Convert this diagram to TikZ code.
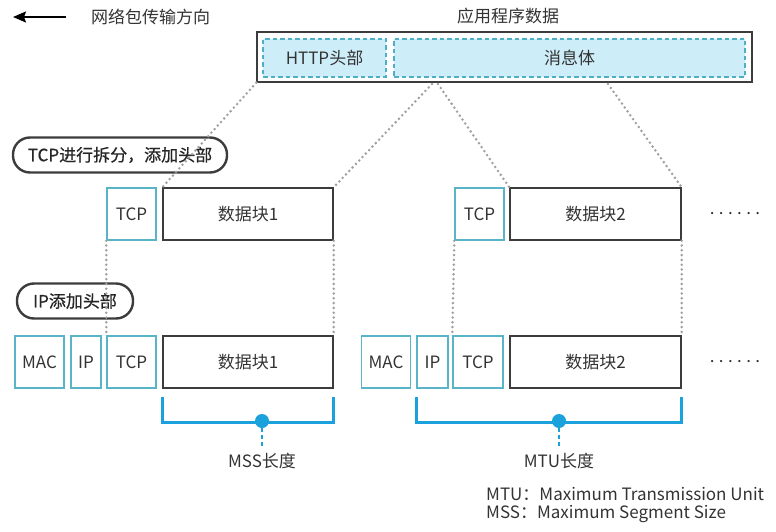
\documentclass[tikz,border=0pt]{standalone}
\usepackage{fontspec}
\setmainfont{Noto Sans CJK SC}
\newfontfamily\pillfont[FakeBold=0.7]{Noto Sans CJK SC}
\usetikzlibrary{arrows.meta}
\definecolor{tealc}{HTML}{5AB4C8}
\definecolor{lightfill}{HTML}{CDEEF9}
\definecolor{dashc}{HTML}{4FAFC4}
\definecolor{brblue}{HTML}{1BA1DB}
\definecolor{darkc}{HTML}{3C3C3C}
\definecolor{txtc}{HTML}{333333}
\definecolor{grayd}{HTML}{A0A0A0}
\tikzset{
  x=1pt,y=1pt,
  every node/.style={text=txtc,font=\fontsize{17}{20}\selectfont,inner sep=0pt},
  tealbox/.style={draw=tealc,line width=1.4pt,minimum height=52pt},
  databox/.style={draw=darkc,line width=1.4pt,minimum height=52pt},
  httpbox/.style={draw=dashc,fill=lightfill,line width=1.3pt,dash pattern=on 4.5pt off 3pt,minimum height=38pt},
  outerbox/.style={draw=darkc,line width=1.4pt,minimum height=50pt},
  pill/.style={draw=darkc,line width=2.4pt,rounded corners=17pt,minimum height=35pt,font=\pillfont\fontsize{17}{20}\selectfont,text=black!85},
  dotline/.style={draw=grayd,line width=2.8pt,dash pattern=on 0pt off 4.8pt,line cap=round},
  bracket/.style={draw=brblue,line width=2.6pt},
  bdash/.style={draw=brblue,line width=2.6pt,dash pattern=on 4pt off 3pt},
  bdot/.style={circle,fill=brblue,minimum size=14pt},
}
\begin{document}
\begin{tikzpicture}
\useasboundingbox (0,0) rectangle (776,-532);
% top arrow & title
\coordinate (arrS) at (66,-17);
\coordinate (arrE) at (13,-17);
\draw[-{Stealth[length=13pt,width=11pt,inset=2pt]},line width=1.8pt,black] (arrS) -- (arrE);
\node[anchor=west] (dir) at (91,-17) {网络包传输方向};
\node (app) at (508,-16) {应用程序数据};
% application data
\node[outerbox,minimum width=495pt] (outer) at (504.5,-57) {};
\node[httpbox,minimum width=123pt] (http) at (324.5,-58) {HTTP头部};
\node[httpbox,minimum width=351pt] (msg) at (569.5,-58) {消息体};
% row 1
\node[tealbox,minimum width=49pt] (tcp1) at (131.5,-214) {TCP};
\node[databox,minimum width=170pt] (d1) at (248,-214) {数据块1};
\node[tealbox,minimum width=49pt] (tcp2) at (479.5,-214) {TCP};
\node[databox,minimum width=171pt] (d2) at (595.5,-214) {数据块2};
\node (more1) at (735,-214) {.\kern4.4pt.\kern4.4pt.\kern4.4pt.\kern4.4pt.\kern4.4pt.};
% row 2
\node[tealbox,minimum width=49pt] (mac1) at (39.5,-362) {MAC};
\node[tealbox,minimum width=30pt] (ip1) at (86,-362) {IP};
\node[tealbox,minimum width=49pt] (tcp1b) at (131.5,-362) {TCP};
\node[databox,minimum width=170pt] (d1b) at (248,-362) {数据块1};
\node[tealbox,minimum width=49pt] (mac2) at (386,-362) {MAC};
\node[tealbox,minimum width=31pt] (ip2) at (432.5,-362) {IP};
\node[tealbox,minimum width=50pt] (tcp2b) at (478,-362) {TCP};
\node[databox,minimum width=171pt] (d2b) at (595.5,-362) {数据块2};
\node (more2) at (735,-362) {.\kern4.4pt.\kern4.4pt.\kern4.4pt.\kern4.4pt.\kern4.4pt.};
% labels
\node[pill,minimum width=214pt] (lab1) at (120,-155) {TCP进行拆分，添加头部};
\node[pill,minimum width=116pt] (lab2) at (75,-301) {IP添加头部};
% dotted connectors
\coordinate (m1) at (432,-84);
\coordinate (m2) at (438,-84);
\coordinate (m3) at (608,-84);
\draw[dotline] (outer.south west) -- (d1.north west);
\draw[dotline] (m1) -- (d1.north east);
\draw[dotline] (m2) -- (d2.north west);
\draw[dotline] (m3) -- (d2.north east);
\draw[dotline] (tcp1.south west) -- (tcp1b.north west);
\draw[dotline] (d1.south east) -- (d1b.north east);
\draw[dotline] (tcp2.south west) -- (tcp2b.north west);
\draw[dotline] (d2.south east) -- (d2b.north east);
% MSS bracket
\draw[bracket] ([yshift=-8pt]d1b.south west) -- ++(0,-26) -| ([yshift=-8pt]d1b.south east);
\node[bdot] (mssdot) at (262,-421) {};
\node (mss) at (262,-461) {MSS长度};
\draw[bdash] (mssdot.south) -- ([yshift=4pt]mss.north);
% MTU bracket
\draw[bracket] ([yshift=-8pt]ip2.south west) -- ++(0,-26) -| ([yshift=-8pt]d2b.south east);
\node[bdot] (mtudot) at (559,-421) {};
\node (mtu) at (559,-461) {MTU长度};
\draw[bdash] (mtudot.south) -- ([yshift=4pt]mtu.north);
% legend
\node[anchor=west] (leg1) at (486,-494) {MTU：Maximum Transmission Unit};
\node[anchor=west] (leg2) at (486,-514) {MSS：Maximum Segment Size};
\end{tikzpicture}
\end{document}
